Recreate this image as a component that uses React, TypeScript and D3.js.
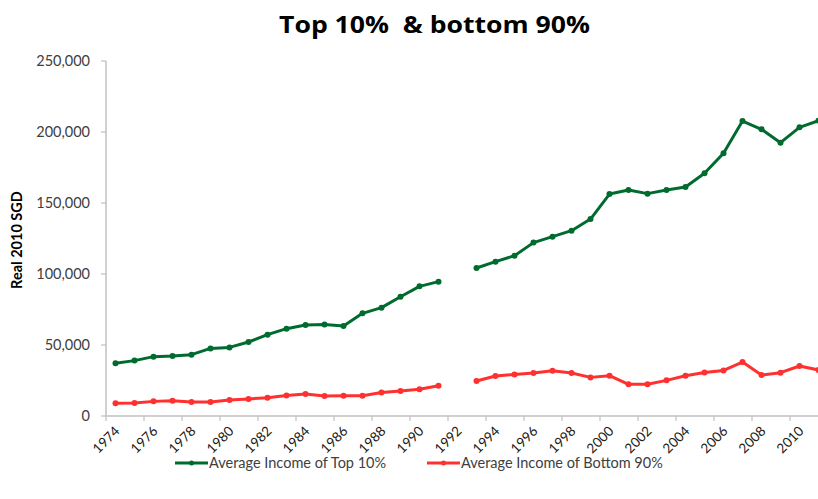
import { scaleBand, scaleLinear, line } from "d3"

const years = [
  1974, 1975, 1976, 1977, 1978, 1979, 1980, 1981, 1982, 1983,
  1984, 1985, 1986, 1987, 1988, 1989, 1990, 1991, 1992, 1993,
  1994, 1995, 1996, 1997, 1998, 1999, 2000, 2001, 2002, 2003,
  2004, 2005, 2006, 2007, 2008, 2009, 2010, 2011,
]
// 1992 has no value in the source
const top10: (number | null)[] = [
  37100, 39000, 41800, 42200, 43200, 47600, 48300, 52100, 57300, 61500,
  64100, 64500, 63400, 72300, 76300, 84000, 91300, 94600, null, 104200,
  108700, 112900, 122100, 126300, 130500, 138700, 156300, 159100, 156600, 159100,
  161300, 170900, 185000, 207700, 201900, 192500, 203300, 208000,
]
const bottom90: (number | null)[] = [
  8900, 9100, 10300, 10800, 9800, 9800, 11200, 12000, 12900, 14500,
  15500, 14100, 14300, 14300, 16600, 17600, 18800, 21300, null, 24600,
  28200, 29300, 30300, 31900, 30300, 27200, 28400, 22300, 22300, 25100,
  28400, 30700, 32100, 38000, 28800, 30500, 35200, 32400,
]
const yTicks = [0, 50000, 100000, 150000, 200000, 250000]
const xLabelYears = years.filter((y) => (y - 1974) % 2 === 0)

const series = [
  { name: "Average Income of Top 10%", values: top10, color: "#006b2e" },
  { name: "Average Income of Bottom 90%", values: bottom90, color: "#ff3030" },
]

const FONT = "Lato, 'Open Sans', sans-serif"

export default function App() {
  const width = 818
  const height = 499
  const MARGIN = { left: 106, top: 61 }
  const boundsHeight = 355
  const boundsWidth = 19 * years.length

  const xScale = scaleBand<number>()
    .domain(years)
    .range([0, boundsWidth])
  const yScale = scaleLinear().domain([0, 250000]).range([boundsHeight, 0])

  const cx = (y: number) => (xScale(y) ?? 0) + xScale.bandwidth() / 2

  const lineGen = line<number | null>()
    .defined((d) => d !== null)
    .x((_, i) => cx(years[i]))
    .y((d) => yScale(d as number))

  const tickPositions = years
    .map((y, i) => (i % 2 === 0 ? xScale(y) ?? 0 : null))
    .filter((v) => v !== null) as number[]
  tickPositions.push(boundsWidth)

  return (
    <svg
      width={width}
      height={height}
      style={{ position: "absolute", left: 0, top: 0, background: "#fff", overflow: "hidden" }}
    >
      <text
        x={279}
        y={33}
        fontFamily="'Open Sans', sans-serif"
        fontWeight={700}
        fontSize={24}
        fill="#000"
        textLength={311}
        lengthAdjust="spacingAndGlyphs"
        style={{ whiteSpace: "pre" }}
      >
        {"Top 10%  & bottom 90%"}
      </text>
      <text
        transform={`translate(22,${MARGIN.top + 179}) rotate(-90)`}
        textAnchor="middle"
        fontFamily={FONT}
        fontWeight={700}
        fontSize={14.5}
        fill="#000"
      >
        Real 2010 SGD
      </text>
      <g transform={`translate(${MARGIN.left},${MARGIN.top})`}>
        <line x1={0} x2={0} y1={0} y2={boundsHeight} stroke="#c0c0c0" strokeWidth={1.5} />
        <line x1={0} x2={boundsWidth} y1={boundsHeight} y2={boundsHeight} stroke="#c0c0c0" strokeWidth={1.5} />
        {yTicks.map((t) => (
          <g key={t}>
            <line x1={-5} x2={0} y1={yScale(t)} y2={yScale(t)} stroke="#c0c0c0" strokeWidth={1.2} />
            <text
              x={-16}
              y={yScale(t) + 5}
              textAnchor="end"
              fontFamily={FONT}
              fontSize={14.5}
              fill="#404040"
            >
              {t.toLocaleString("en-US")}
            </text>
          </g>
        ))}
        {tickPositions.map((p, i) => (
          <line key={i} x1={p} x2={p} y1={boundsHeight} y2={boundsHeight + 5} stroke="#c0c0c0" strokeWidth={1.2} />
        ))}
        {xLabelYears.map((y) => (
          <text
            key={y}
            transform={`translate(${cx(y) + 5},${boundsHeight + 16}) rotate(-45)`}
            textAnchor="end"
            fontFamily={FONT}
            fontSize={13.5}
            fill="#202020"
          >
            {y}
          </text>
        ))}
        {series.map((s) => (
          <g key={s.name}>
            <path d={lineGen(s.values) ?? ""} fill="none" stroke={s.color} strokeWidth={3} strokeLinejoin="round" />
            {s.values.map((v, i) =>
              v === null ? null : (
                <circle key={i} cx={cx(years[i])} cy={yScale(v)} r={3} fill={s.color} />
              )
            )}
          </g>
        ))}
      </g>
      {series.map((s, i) => {
        const lx = i === 0 ? 175 : 427
        return (
          <g key={s.name} transform={`translate(${lx},463)`}>
            <line x1={0} x2={33} y1={0} y2={0} stroke={s.color} strokeWidth={3} />
            <circle cx={16.5} cy={0} r={2.5} fill={s.color} />
            <text x={34} y={5} fontFamily={FONT} fontSize={14.5} fill="#404040">
              {s.name}
            </text>
          </g>
        )
      })}
    </svg>
  )
}
